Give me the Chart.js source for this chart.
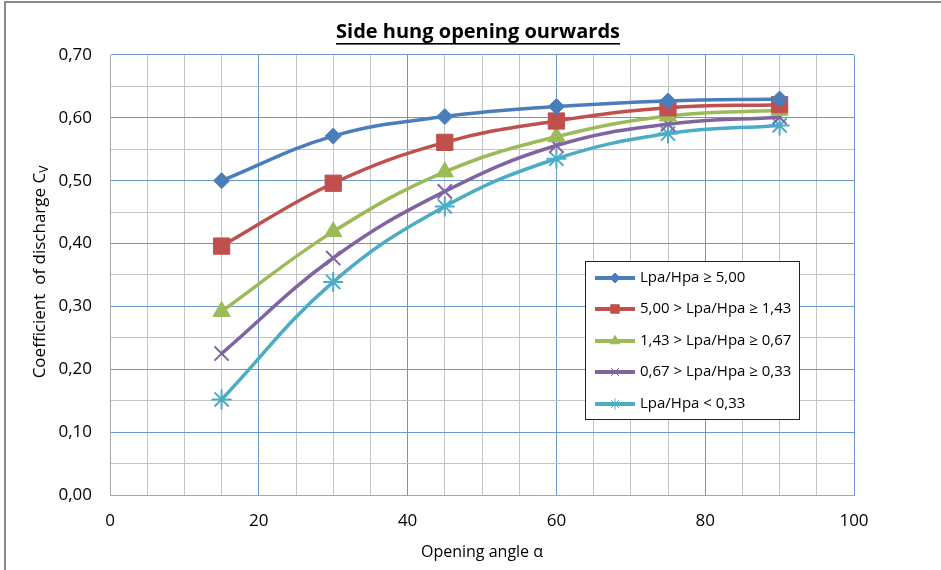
<!DOCTYPE html>
<html>
<head>
<meta charset="utf-8">
<style>
  html, body { margin: 0; padding: 0; background: #fff; }
  #wrap { width: 941px; height: 570px; position: relative; }
</style>
<script src="https://cdn.jsdelivr.net/npm/chart.js@4.4.1/dist/chart.umd.min.js"></script>
</head>
<body>
<div id="wrap"><canvas id="chart" width="941" height="570"></canvas></div>
<script>
// opening angle (degrees)
const angles = [15, 30, 45, 60, 75, 90];

// coefficient of discharge Cv for each Lpa/Hpa range
const cvOver500 = [0.500, 0.571, 0.602, 0.618, 0.627, 0.630];
const cv143to500 = [0.396, 0.496, 0.561, 0.595, 0.616, 0.621];
const cv067to143 = [0.292, 0.419, 0.514, 0.570, 0.603, 0.612];
const cv033to067 = [0.225, 0.377, 0.483, 0.556, 0.590, 0.601];
const cvUnder033 = [0.152, 0.339, 0.459, 0.535, 0.575, 0.588];

const seriesLabels = [
  "Lpa/Hpa ≥ 5,00",
  "5,00 > Lpa/Hpa ≥ 1,43",
  "1,43 > Lpa/Hpa ≥ 0,67",
  "0,67 > Lpa/Hpa ≥ 0,33",
  "Lpa/Hpa < 0,33"
];

const chartTitle = "Side hung opening ourwards";
const xTitle = "Opening angle α";
const yTitle = "Coefficient  of discharge C";
const yTitleSub = "V";

const FONT = "'Open Sans', 'Liberation Sans', sans-serif";

function toPoints(values) {
  return angles.map((a, i) => ({ x: a, y: values[i] }));
}

function serie(label, values, color, marker, radius) {
  return {
    label: label,
    data: toPoints(values),
    showLine: true,
    borderColor: color,
    backgroundColor: color,
    borderWidth: 3.5,
    tension: 0.4,
    pointStyle: marker,
    pointRadius: radius,
    pointHoverRadius: radius,
    pointBorderColor: color,
    pointBackgroundColor: color,
    pointBorderWidth: (marker === "crossRot" || marker === "star") ? 2 : 1
  };
}

const datasets = [
  serie(seriesLabels[0], cvOver500, "#4A7EBB", "rectRot", 8),
  serie(seriesLabels[1], cv143to500, "#C0504D", "rect", 11.5),
  serie(seriesLabels[2], cv067to143, "#9BBB59", "triangle", 10),
  serie(seriesLabels[3], cv033to067, "#8064A2", "crossRot", 10),
  serie(seriesLabels[4], cvUnder033, "#4BACC6", "star", 10)
];

const MAJOR = "#6A95CD";
const MINOR = "#C4C4C4";

// title, y title with subscript, frame and legend box
const decorPlugin = {
  id: "decor",
  beforeDraw(chart) {
    const ctx = chart.ctx;
    ctx.save();
    ctx.fillStyle = "#fff";
    ctx.fillRect(0, 0, chart.width, chart.height);
    ctx.strokeStyle = "#8C8C8C";
    ctx.lineWidth = 2;
    ctx.beginPath();
    ctx.moveTo(5, chart.height);
    ctx.lineTo(5, 2);
    ctx.lineTo(chart.width, 2);
    ctx.stroke();
    ctx.restore();
  },
  afterDraw(chart) {
    const ctx = chart.ctx;
    ctx.save();

    // chart title, bold + underline
    ctx.font = "bold 20px " + FONT;
    ctx.fillStyle = "#000";
    ctx.textAlign = "center";
    ctx.textBaseline = "middle";
    const tx = 478, ty = 32;
    ctx.fillText(chartTitle, tx, ty);
    const tw = ctx.measureText(chartTitle).width;
    ctx.fillRect(tx - tw / 2, ty + 11, tw, 1.6);

    // y axis title (rotated), C with subscript V
    ctx.translate(40, 272);
    ctx.rotate(-Math.PI / 2);
    ctx.font = "17px " + FONT;
    const mainW = ctx.measureText(yTitle).width;
    ctx.font = "12px " + FONT;
    const subW = ctx.measureText(yTitleSub).width;
    const startX = -(mainW + subW) / 2;
    ctx.textAlign = "left";
    ctx.font = "17px " + FONT;
    ctx.fillStyle = "#000";
    ctx.fillText(yTitle, startX, 0);
    ctx.font = "12px " + FONT;
    ctx.fillText(yTitleSub, startX + mainW, 5);
    ctx.setTransform(1, 0, 0, 1, 0, 0);

    // legend box inside plot
    const lx = 585, ly = 261, lw = 214, lh = 158;
    ctx.fillStyle = "#fff";
    ctx.fillRect(lx, ly, lw, lh);
    ctx.strokeStyle = "#222";
    ctx.lineWidth = 1;
    ctx.strokeRect(lx + 0.5, ly + 0.5, lw, lh);
    const rowY = [278, 309, 341, 372, 404];
    const legendRadius = [5, 6, 5.5, 5.5, 5.5];
    chart.data.datasets.forEach((ds, i) => {
      const y = rowY[i];
      ctx.strokeStyle = ds.borderColor;
      ctx.lineWidth = 4;
      ctx.beginPath();
      ctx.moveTo(595, y);
      ctx.lineTo(635, y);
      ctx.stroke();
      ctx.fillStyle = ds.borderColor;
      ctx.strokeStyle = ds.borderColor;
      ctx.lineWidth = 1;
      Chart.helpers.drawPoint(ctx, {
        pointStyle: ds.pointStyle,
        radius: legendRadius[i],
        rotation: 0,
        borderWidth: 1
      }, 615, y);
      ctx.fillStyle = "#000";
      ctx.font = "15px " + FONT;
      ctx.textAlign = "left";
      ctx.textBaseline = "middle";
      ctx.fillText(ds.label, 640, y);
    });
    ctx.restore();
  }
};

const ctx = document.getElementById("chart").getContext("2d");

new Chart(ctx, {
  type: "scatter",
  data: { datasets: datasets },
  options: {
    responsive: false,
    animation: false,
    events: [],
    layout: { padding: { left: 0, right: 87, top: 55, bottom: 0 } },
    plugins: {
      legend: { display: false },
      title: { display: false },
      tooltip: { enabled: false }
    },
    scales: {
      x: {
        type: "linear",
        min: 0,
        max: 100,
        afterFit(scale) { scale.height = 75; },
        afterBuildTicks(scale) {
          const t = [];
          for (let v = 0; v <= 100; v += 5) t.push({ value: v });
          scale.ticks = t;
        },
        ticks: {
          padding: 16,
          maxRotation: 0,
          autoSkip: false,
          color: "#000",
          font: { family: FONT, size: 17 },
          callback: (v) => (v % 20 === 0 ? String(v) : "")
        },
        grid: {
          drawTicks: false,
          color: (c) => (c.tick && c.tick.value % 20 === 0 && c.tick.value !== 0 ? MAJOR : MINOR),
          lineWidth: 1
        },
        border: { color: "#A6A6A6", width: 1 },
        title: {
          display: true,
          text: xTitle,
          color: "#000",
          font: { family: FONT, size: 16 },
          padding: { top: 0, bottom: 8 }
        }
      },
      y: {
        type: "linear",
        min: 0,
        max: 0.7,
        afterFit(scale) { scale.width = 110; },
        afterBuildTicks(scale) {
          const t = [];
          for (let k = 0; k <= 14; k++) t.push({ value: k * 0.05 });
          scale.ticks = t;
        },
        ticks: {
          padding: 18,
          autoSkip: false,
          color: "#000",
          font: { family: FONT, size: 17 },
          callback: (v) => {
            const k = Math.round(v * 100);
            return k % 10 === 0 ? (k / 100).toFixed(2).replace(".", ",") : "";
          }
        },
        grid: {
          drawTicks: false,
          color: (c) => {
            if (!c.tick) return MINOR;
            const k = Math.round(c.tick.value * 100);
            return k % 10 === 0 && k !== 0 ? MAJOR : MINOR;
          },
          lineWidth: 1
        },
        border: { color: "#A6A6A6", width: 1 }
      }
    }
  },
  plugins: [decorPlugin]
});
</script>
</body>
</html>
